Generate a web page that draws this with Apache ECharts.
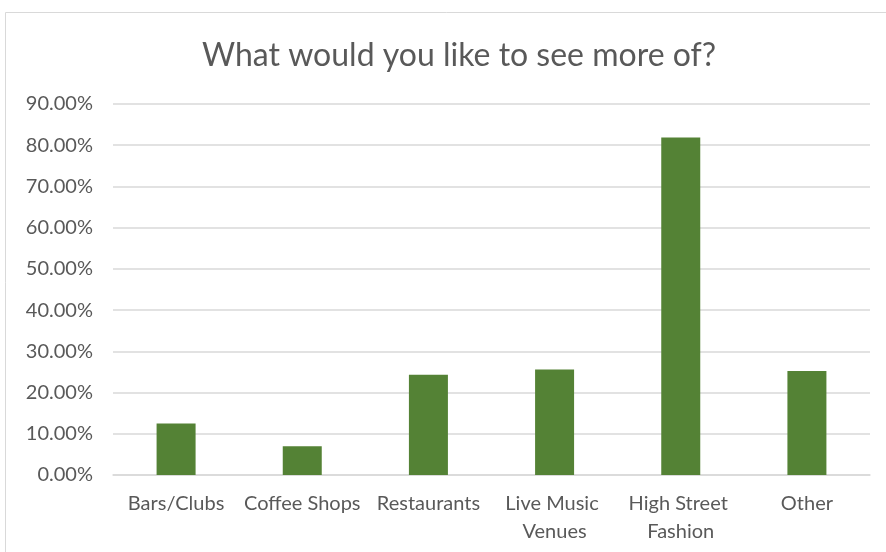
<!DOCTYPE html>
<html><head><meta charset="utf-8">
<script src="https://cdn.jsdelivr.net/npm/echarts@6/dist/echarts.min.js"></script>
<style>html,body{margin:0;padding:0;background:#fff}#c{width:886px;height:552px}</style>
</head><body><div id="c"></div>
<script>
const titleText = 'What would you like to see more of?';
const categories = ['Bars/Clubs', 'Coffee Shops', 'Restaurants', 'Live Music Venues', 'High Street Fashion', 'Other'];
const values = [0.125, 0.070, 0.243, 0.256, 0.819, 0.252];
const yMin = 0, yMax = 0.9, yStep = 0.1;

const font = 'Lato, "Open Sans", sans-serif';
const chart = echarts.init(document.getElementById('c'), null, {renderer: 'canvas'});
chart.setOption({
  animation: false,
  backgroundColor: '#ffffff',
  title: {
    text: titleText, left: 197, top: 35,
    textStyle: {fontFamily: font, fontSize: 32, fontWeight: 'normal', color: '#595959'}
  },
  graphic: [{type: 'rect', shape: {x: 5.5, y: 12.5, width: 1000, height: 1000},
    style: {fill: 'none', stroke: '#d9d9d9', lineWidth: 1}, silent: true}],
  grid: {left: 113, right: 16, top: 104, bottom: 77, containLabel: false},
  xAxis: {
    type: 'category', data: categories,
    axisLine: {show: true, lineStyle: {color: '#d9d9d9', width: 1.5}},
    axisTick: {show: false},
    axisLabel: {interval: 0, margin: 15, fontFamily: font, fontSize: 20, color: '#595959',
      width: 124, overflow: 'break', lineHeight: 28}
  },
  yAxis: {
    type: 'value', min: yMin, max: yMax, interval: yStep,
    axisLine: {show: false}, axisTick: {show: false},
    axisLabel: {margin: 20, fontFamily: font, fontSize: 20, color: '#595959',
      formatter: v => (v * 100).toFixed(2) + '%'},
    splitLine: {lineStyle: {color: '#d9d9d9', width: 1.5}}
  },
  series: [{type: 'bar', data: values, barWidth: 39, itemStyle: {color: '#548235'}}]
});
</script></body></html>
